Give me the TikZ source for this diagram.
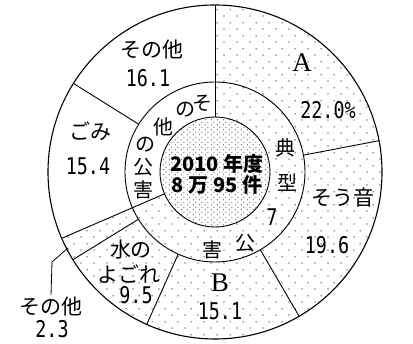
\documentclass[tikz,border=0pt]{standalone}
\usepackage{fontspec}
\setmainfont{Noto Sans CJK JP}
\newfontfamily\numfont[FakeStretch=0.8]{DejaVu Sans Mono}
\newfontfamily\capfont{Liberation Serif}
\usetikzlibrary{patterns.meta}

\tikzdeclarepattern{
    name=ringdots,
    type=uncolored,
    bounding box={(0pt,0pt) and (13pt,12.6pt)},
    tile size={(13pt,12.6pt)},
    code={
        \fill (3.25pt,3.15pt) circle (.65pt);
        \fill (9.75pt,9.45pt) circle (.65pt);
    }
}
\tikzdeclarepattern{
    name=coredots,
    type=uncolored,
    bounding box={(0pt,0pt) and (6pt,5.4pt)},
    tile size={(6pt,5.4pt)},
    code={
        \fill (1.5pt,1.35pt) circle (.55pt);
        \fill (4.5pt,4.05pt) circle (.55pt);
    }
}

\begin{document}
\begin{tikzpicture}[
    x=1pt, y=1pt,
    every node/.style={inner sep=2pt},
    wedge/.style={line width=0.9pt, draw=black},
    lbl/.style={font=\fontsize{21}{23}\selectfont},
    num/.style={font=\numfont\fontsize{23}{25}\selectfont},
    bigcap/.style={font=\capfont\fontsize{27}{28}\selectfont},
    ringch/.style={font=\fontsize{20}{21}\selectfont},
    core/.style={font=\bfseries\fontsize{20}{22}\selectfont}
]
\useasboundingbox (0,0) rectangle (413,344);

% Dotted part of the typical pollutions
\begin{scope}[shift={(215,172)}]
\fill[pattern=ringdots] (90:167) arc[start angle=90, end angle=-156.6, radius=167]
    -- (-156.6:55) arc[start angle=-156.6, end angle=90, radius=55] -- cycle;
\fill[pattern=coredots] (0,0) circle (55);

% Rings
\draw[line width=1.1pt] (0,0) circle (167);
\draw[wedge] (0,0) circle (90);
\draw[wedge] (0,0) circle (55);

% Dividers
\foreach \a in {90,-156.6}
    \draw[wedge] (\a:55) -- (\a:167);
\foreach \a in {10.8,-59.76,-114.12,-148.32,147.96}
    \draw[wedge] (\a:90) -- (\a:167);
\end{scope}

% Centre
\node[core] (year) at (217,180) {2010 年度};
\node[core] (total) at (217,159) {8 万 95 件};

% Middle ring
\foreach \x/\y/\c [count=\i] in {202/241/そ, 185/234/の, 163/217/他, 145/199/の, 143/177/公, 143/154/害}
    \node[ringch] (oth\i) at (\x,\y) {\c};
\foreach \x/\y/\c [count=\i] in {285/196/典, 287/161/型, 245/101/公, 212/94/害}
    \node[ringch] (typ\i) at (\x,\y) {\c};
\node[num] (seven) at (272,127) {7};

% Outer ring
\node[bigcap] (capA) at (302,281) {A};
\node[num] (valA) at (328,234) {22.0\%};
\node[lbl] (noise) at (343,146) {そう音};
\node[num] (valnoise) at (327,99) {19.6};
\node[bigcap] (capB) at (220,61) {B};
\node[num] (valB) at (220,33) {15.1};
\node[lbl] (water1) at (131,94) {水の};
\node[lbl] (water2) at (129,70) {よごれ};
\node[num] (valwater) at (136,49) {9.5};
\node[lbl] (waste) at (90,213) {ごみ};
\node[num] (valwaste) at (88,178) {15.4};
\node[lbl] (rest) at (152,294) {その他};
\node[num] (valrest) at (148,266) {16.1};

% Small slice, labelled outside
\coordinate (lead) at (68,96);
\node[lbl] (small) at (51,37) {その他};
\node[num] (valsmall) at (52,15) {2.3};
\draw[line width=0.8pt] (lead) -- (52,82) -- (small.north);

\end{tikzpicture}
\end{document}
